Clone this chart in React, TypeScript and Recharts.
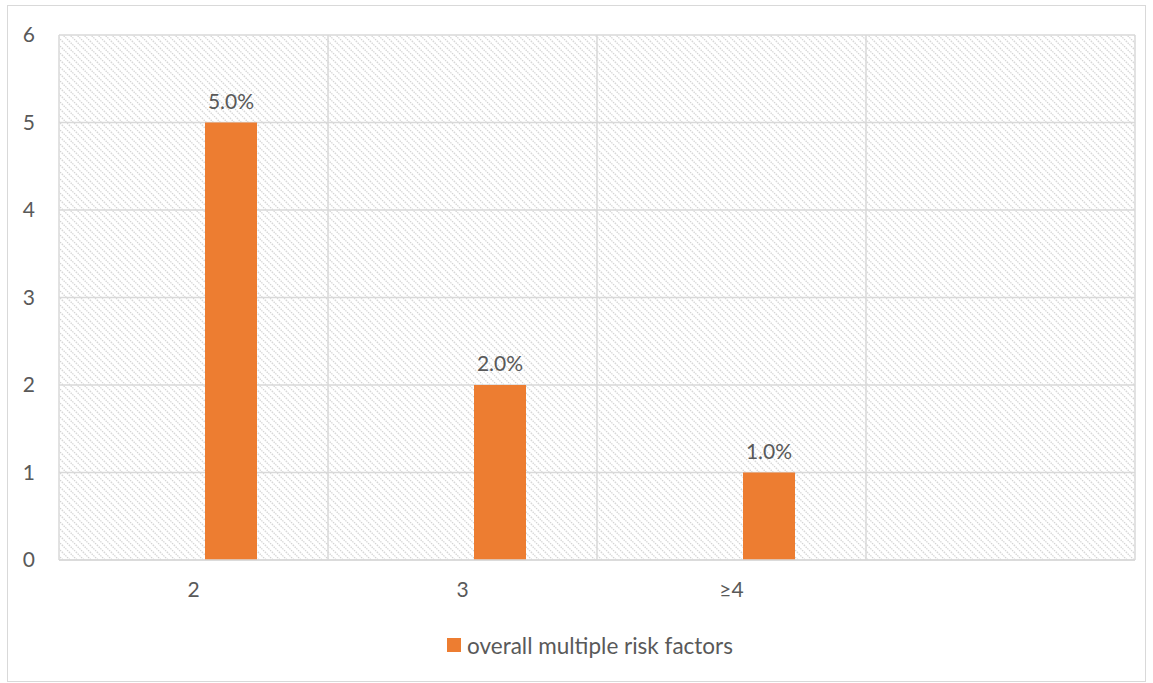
import React from 'react';
import { BarChart, Bar, XAxis, YAxis, CartesianGrid, Legend, LabelList } from 'recharts';

const categories = ['2', '3', '≥4', ''];
const riskValues = [5, 2, 1, null];
const placeholderValues = [0, 0, 0, null];
const yTicks = [0, 1, 2, 3, 4, 5, 6];
const seriesName = 'overall multiple risk factors';

const data = categories.map((c, i) => ({
  cat: c,
  blank: placeholderValues[i],
  risk: riskValues[i],
}));

const FONT = 'Lato, "Open Sans", sans-serif';
const TEXT = '#595959';
const GRID = '#d9d9d9';
const ORANGE = '#ed7d31';
const FS = 21;

const LegendContent = () => (
  <div style={{ display: 'flex', justifyContent: 'center', alignItems: 'center', fontFamily: FONT, fontSize: 22.5, color: TEXT, height: 44, marginLeft: 26 }}>
    <span style={{ display: 'inline-block', width: 14, height: 14, background: ORANGE, marginRight: 6 }} />
    <span>{seriesName}</span>
  </div>
);

const boundaryLines = ({ offset }: any) =>
  Array.from({ length: categories.length + 1 }, (_, i) => offset.left + (i * offset.width) / categories.length);

export default function App() {
  return (
    <div style={{ position: 'absolute', left: 0, top: 0, width: 1153, height: 683, background: '#fff' }}>
      <div style={{ position: 'absolute', left: 7, top: 5, width: 1139, height: 677, border: '1.5px solid #d9d9d9', boxSizing: 'border-box' }} />
      <div style={{ position: 'absolute', left: 0, top: 0 }}>
        <BarChart width={1153} height={683} data={data} margin={{ top: 35, right: 18, bottom: 0, left: 19 }} barGap={23} barSize={52}>
          <defs>
            <pattern id="hatch" width="7" height="7" patternUnits="userSpaceOnUse">
              <rect width="7" height="7" fill="#ffffff" />
              <path d="M-1,-1 L8,8 M-1,6 L1,8 M6,-1 L8,1" stroke="#d4d4d4" strokeWidth="1.3" strokeDasharray="1.4 1" />
            </pattern>
          </defs>
          <CartesianGrid fill="url(#hatch)" fillOpacity={1} stroke={GRID} strokeWidth={1.5} verticalCoordinatesGenerator={boundaryLines} />
          <XAxis dataKey="cat" axisLine={{ stroke: GRID, strokeWidth: 1.5 }} tickLine={false} tickSize={0} tickMargin={22} height={63} tick={{ fill: TEXT, fontSize: FS, fontFamily: FONT }} interval={0} />
          <YAxis domain={[0, 6]} ticks={yTicks} axisLine={false} tickLine={false} tickSize={0} tickMargin={24} width={40} tick={{ fill: TEXT, fontSize: FS, fontFamily: FONT }} />
          <Legend verticalAlign="bottom" height={60} content={<LegendContent />} wrapperStyle={{ height: 60 }} />
          <Bar dataKey="blank" fill="#4472c4" legendType="none" isAnimationActive={false} />
          <Bar dataKey="risk" name={seriesName} fill={ORANGE} isAnimationActive={false}>
            <LabelList dataKey="risk" position="top" offset={14} formatter={(v: any) => (v == null ? '' : `${Number(v).toFixed(1)}%`)} style={{ fill: TEXT, fontSize: FS, fontFamily: FONT }} />
          </Bar>
        </BarChart>
      </div>
    </div>
  );
}
